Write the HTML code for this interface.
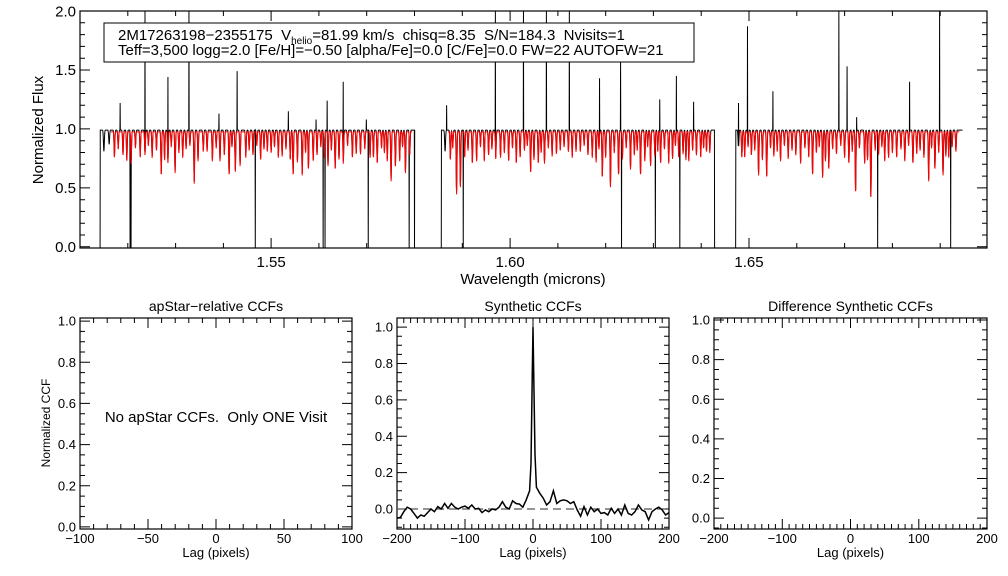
<!DOCTYPE html>
<html><head><meta charset="utf-8"><style>
html,body{margin:0;padding:0;background:#fff;}
svg{display:block;font-family:"Liberation Sans",sans-serif;}
</style></head><body>
<svg id="fig" width="1008" height="576" viewBox="0 0 1008 576" xmlns="http://www.w3.org/2000/svg"></svg>
<script>
// ---- Spectrum data (wavelength in microns) ----
const chipRanges = [[1.5142,1.5801],[1.5856,1.6428],[1.6472,1.6947]];
const modelRanges = [[1.5165,1.5795],[1.5870,1.6420],[1.6480,1.6940]];
const strongLineWl = [1.5190,1.5207,1.5226,1.5251,1.5270,1.5284,1.5299,1.5339,1.5358,1.5377,1.5393,1.5412,1.5425,1.5435,1.5462,1.5492,1.5515,1.5540,1.5546,1.5565,1.5578,1.5588,1.5619,1.5634,1.5651,1.5670,1.5687,1.5707,1.5722,1.5743,1.5751,1.5760,1.5781,
1.5888,1.5896,1.5921,1.5946,1.5980,1.5997,1.6013,1.6043,1.6059,1.6072,1.6097,1.6122,1.6147,1.6172,1.6193,1.6210,1.6227,1.6252,1.6273,1.6294,1.6315,1.6332,1.6353,1.6374,1.6399,1.6411,
1.6491,1.6520,1.6537,1.6566,1.6608,1.6633,1.6654,1.6667,1.6709,1.6723,1.6742,1.6755,1.6784,1.6809,1.6843,1.6876,1.6889,1.6906,1.6918];
const strongLineMin = [0.77,0.70,0.75,0.75,0.60,0.70,0.62,0.53,0.80,0.72,0.72,0.60,0.63,0.68,0.77,0.80,0.75,0.73,0.60,0.60,0.65,0.72,0.68,0.65,0.70,0.75,0.78,0.75,0.70,0.72,0.55,0.67,0.62,
0.44,0.50,0.70,0.72,0.75,0.72,0.70,0.62,0.70,0.70,0.78,0.80,0.80,0.75,0.58,0.50,0.60,0.65,0.60,0.68,0.70,0.70,0.75,0.72,0.75,0.80,
0.75,0.60,0.58,0.72,0.70,0.60,0.58,0.65,0.70,0.45,0.70,0.40,0.72,0.75,0.70,0.55,0.65,0.60,0.75];
const weakLineWl = [1.5150,1.5161,1.5172,1.5180,1.5198,1.5216,1.5236,1.5243,1.5260,1.5277,1.5291,1.5307,1.5315,1.5322,1.5330,1.5347,1.5366,1.5385,1.5402,1.5418,1.5447,1.5454,1.5470,1.5478,1.5485,1.5500,1.5507,1.5523,1.5531,1.5555,1.5572,1.5596,1.5604,1.5611,1.5626,1.5642,1.5660,1.5678,1.5696,1.5714,1.5731,1.5737,1.5769,1.5775,1.5790,
1.5864,1.5875,1.5880,1.5905,1.5912,1.5930,1.5938,1.5955,1.5962,1.5970,1.5988,1.6005,1.6021,1.6030,1.6036,1.6050,1.6065,1.6080,1.6088,1.6105,1.6113,1.6130,1.6138,1.6155,1.6163,1.6180,1.6186,1.6200,1.6218,1.6235,1.6243,1.6260,1.6266,1.6282,1.6288,1.6303,1.6309,1.6323,1.6340,1.6346,1.6362,1.6368,1.6382,1.6390,1.6405,1.6418,
1.6478,1.6485,1.6498,1.6505,1.6512,1.6528,1.6545,1.6552,1.6559,1.6574,1.6582,1.6590,1.6598,1.6617,1.6625,1.6641,1.6647,1.6660,1.6675,1.6683,1.6692,1.6700,1.6716,1.6731,1.6748,1.6764,1.6771,1.6778,1.6792,1.6800,1.6818,1.6826,1.6834,1.6851,1.6858,1.6866,1.6882,1.6897,1.6912,1.6925,1.6933];
const weakLineDepth = [0.18,0.12,0.22,0.15,0.25,0.14,0.20,0.12,0.16,0.24,0.13,0.18,0.22,0.15,0.12,0.25,0.17,0.14,0.20,0.13,0.22,0.16,0.12,0.24,0.15,0.18,0.13,0.21,0.15,0.26,0.18,0.20,0.13,0.22,0.16,0.24,0.12,0.19,0.15,0.22,0.14,0.18,0.25,0.13,0.20,
0.18,0.24,0.14,0.22,0.16,0.25,0.13,0.20,0.15,0.23,0.18,0.14,0.22,0.16,0.12,0.24,0.18,0.14,0.21,0.16,0.13,0.22,0.17,0.12,0.20,0.26,0.15,0.22,0.18,0.24,0.14,0.20,0.16,0.25,0.13,0.21,0.17,0.15,0.23,0.12,0.19,0.24,0.16,0.20,0.14,0.18,
0.15,0.22,0.13,0.20,0.16,0.24,0.14,0.21,0.17,0.12,0.23,0.16,0.20,0.14,0.22,0.18,0.13,0.25,0.15,0.19,0.12,0.22,0.17,0.14,0.24,0.16,0.20,0.13,0.22,0.18,0.15,0.25,0.12,0.19,0.16,0.22,0.14,0.18,0.21,0.13,0.17];
const badPixelWl = [1.5142,1.5205,1.5207,1.5467,1.5609,1.5613,1.5703,1.5789,1.5800,1.5856,1.5902,1.6233,1.6304,1.6355,1.6428,1.6472,1.6769,1.6922,1.6947];
const emissionWl = [1.5184,1.5236,1.5284,1.5328,1.5391,1.5429,1.5536,1.5594,1.5617,1.5651,1.5699,1.5867,1.5969,1.6028,1.6076,1.6124,1.6187,1.6231,1.6313,1.6348,1.6384,1.6478,1.6497,1.6550,1.6688,1.6705,1.6725,1.6836,1.6899];
const emissionPeak = [1.22,2.00,1.44,2.00,1.13,1.49,1.15,1.08,1.24,1.40,1.08,1.20,2.00,2.00,2.00,2.00,1.43,1.60,1.25,1.45,1.23,1.22,1.87,1.32,2.00,1.53,1.10,1.40,2.00];

// ---- CCF data ----
const ccfLag = [-200,-195,-190,-185,-180,-175,-170,-165,-160,-155,-150,-145,-140,-135,-130,-125,-120,-115,-110,-105,-100,-95,-90,-85,-80,-75,-70,-65,-60,-55,-50,-45,-40,-35,-30,-25,-20,-15,-10,-5,-3,-1,0,1,3,5,10,15,20,25,30,35,40,45,50,55,60,65,70,75,80,85,90,95,100,105,110,115,120,125,130,135,140,145,150,155,160,165,170,175,180,185,190,195,200];
const ccfValue = [-0.05,-0.046,-0.015,0.01,0,-0.024,-0.05,-0.033,-0.04,-0.02,0,-0.015,0.013,0,0.03,0.004,0.03,0.01,0,0.01,0.016,0.004,0.022,0,0.004,-0.02,-0.005,-0.015,0,-0.005,0.01,0.04,0.01,0,0.045,0.03,0.027,0.01,0.05,0.1,0.25,0.75,1.0,0.75,0.3,0.12,0.086,0.06,0.022,0.04,0.1,0.03,0.045,0.05,0.045,0.03,0.04,-0.005,-0.04,0.013,-0.033,0.01,-0.015,0,-0.024,-0.02,-0.033,0.004,-0.024,0,-0.033,0.022,-0.024,-0.033,-0.015,0.022,-0.005,-0.015,-0.06,-0.015,0,0.01,-0.005,-0.033,-0.02];

// ---- helpers ----
const NS="http://www.w3.org/2000/svg";
const svgRoot=document.getElementById('fig');
function mk(tag,attrs,parent){const e=document.createElementNS(NS,tag);for(const k in attrs)e.setAttribute(k,attrs[k]);(parent||svgRoot).appendChild(e);return e;}
function txt(s,x,y,size,anchor,parent){const t=mk('text',{x:x,y:y,'font-size':size,'text-anchor':anchor||'middle',fill:'#000'},parent);t.textContent=s;return t;}
function scale(d0,d1,r0,r1){return v=>r0+(v-d0)/(d1-d0)*(r1-r0);}

function axes(g,box,xd,yd,xMajor,xMinor,yMajor,yMinor,xFmt,yFmt,fs,xlabY){
  const X=scale(xd[0],xd[1],box.l,box.r),Y=scale(yd[0],yd[1],box.b,box.t);
  const fr=mk('rect',{x:box.l,y:box.t,width:box.r-box.l,height:box.b-box.t,fill:'none',stroke:'#000','stroke-width':1.2},g);
  
  
  let p='';
  const nx0=Math.ceil(xd[0]/xMinor-1e-6), nx1=Math.floor(xd[1]/xMinor+1e-6);
  for(let n=nx0;n<=nx1;n++){
    const v=n*xMinor;
    const maj=Math.abs(v/xMajor-Math.round(v/xMajor))<1e-6; const L=maj?10:5; const x=X(v).toFixed(1);
    p+=`M${x} ${box.b}v${-L}M${x} ${box.t}v${L}`;
  }
  const ny0=Math.ceil(yd[0]/yMinor-1e-6), ny1=Math.floor(yd[1]/yMinor+1e-6);
  for(let n=ny0;n<=ny1;n++){
    const v=n*yMinor;
    const maj=Math.abs(v/yMajor-Math.round(v/yMajor))<1e-6; const L=maj?10:5; const y=Y(v).toFixed(1);
    p+=`M${box.l} ${y}h${L}M${box.r} ${y}h${-L}`;
  }
  mk('path',{d:p,stroke:'#000','stroke-width':1,fill:'none'},g);
  const xt=mk('g',{},g);
  const mx0=Math.ceil(xd[0]/xMajor-1e-6), mx1=Math.floor(xd[1]/xMajor+1e-6);
  for(let n=mx0;n<=mx1;n++){const v=n*xMajor;txt(xFmt(v),X(v),xlabY,fs,'middle',xt);}
  const yt=mk('g',{},g);
  const my0=Math.ceil(yd[0]/yMajor-1e-6), my1=Math.floor(yd[1]/yMajor+1e-6);
  for(let n=my0;n<=my1;n++){const v=n*yMajor;txt(yFmt(v),box.l-4,Y(v)+fs*0.35,fs,'end',yt);}
  return {X,Y};
}

// ---- Top spectrum panel ----
const topG=mk('g',{});
const tb={l:80,r:987,t:11,b:248};
const TA=axes(topG,tb,[1.51,1.6998],[-0.01,2.0],0.05,0.01,0.5,0.1,v=>v.toFixed(2),v=>v.toFixed(1),15,267);
function fluxAt(w,scaleDepth,cont,sig){
  let f=cont;
  const s2=2*sig*sig;
  for(let i=0;i<strongLineWl.length;i++){const d=w-strongLineWl[i];if(Math.abs(d)<0.0005)f-=(0.97-strongLineMin[i])*scaleDepth*Math.exp(-d*d/s2);}
  for(let i=0;i<weakLineWl.length;i++){const d=w-weakLineWl[i];if(Math.abs(d)<0.0005)f-=weakLineDepth[i]*scaleDepth*Math.exp(-d*d/s2);}
  return f;
}
const STEP=0.00004;
function spectrumPath(ranges,scaleDepth,cont,sig,withArtifacts){
  let d='';
  for(const r of ranges){
    const a=r[0],b=r[1];
    const n=Math.floor((b-a)/STEP);
    for(let k=0;k<=n;k++){
      const w=a+k*STEP;
      let f=fluxAt(w,scaleDepth,cont,sig);
      if(withArtifacts){
        for(let i=0;i<badPixelWl.length;i++) if(Math.abs(w-badPixelWl[i])<STEP/2) f=-0.05;
        for(let i=0;i<emissionWl.length;i++) if(Math.abs(w-emissionWl[i])<STEP/2) f=emissionPeak[i];
      }
      f=Math.max(-0.05,Math.min(2.05,f));
      d+=(k===0?'M':'L')+TA.X(w).toFixed(2)+' '+TA.Y(f).toFixed(1);
    }
  }
  return d;
}
const defs=mk('defs',{});
const clip=mk('clipPath',{id:'topclip'},defs);mk('rect',{x:tb.l,y:tb.t,width:tb.r-tb.l,height:tb.b-tb.t},clip);
const obs=mk('path',{d:spectrumPath(chipRanges,1.0,0.99,0.00009,true),stroke:'#000','stroke-width':1,fill:'none','clip-path':'url(#topclip)'},topG);


const mod=mk('path',{d:spectrumPath(modelRanges,1.0,0.975,0.00007,false),stroke:'#f00','stroke-width':1,fill:'none','clip-path':'url(#topclip)'},topG);


const xt1=txt('Wavelength (microns)',533,284,15,'middle',topG);


const yt1=txt('Normalized Flux',0,0,15,'middle',topG);yt1.setAttribute('transform','translate(43,130) rotate(-90)');


// legend box
const lg=mk('g',{},topG);


mk('rect',{x:104,y:23,width:590,height:39,fill:'#fff',stroke:'#000','stroke-width':1},lg);
const l1=mk('text',{x:118,y:40,'font-size':15,fill:'#000'},lg);
l1.style.whiteSpace='pre';
const s1=mk('tspan',{},l1);s1.textContent='2M17263198−2355175  V';
const s2=mk('tspan',{'font-size':10,dy:4},l1);s2.textContent='helio';
const s3=mk('tspan',{dy:-4},l1);s3.textContent='=81.99 km/s  chisq=8.35  S/N=184.3  Nvisits=1';
txt('Teff=3,500 logg=2.0 [Fe/H]=−0.50 [alpha/Fe]=0.0 [C/Fe]=0.0 FW=22 AUTOFW=21',118,55,15,'start',lg);

// ---- Bottom panels ----
const fs2=13;
function lagFmt(v){const r=Math.round(v);return r===0?'0':String(r).replace('-','−');}
function panel(name,title,box,xd,yd,xMajor,xMinor){
  const g=mk('g',{});
  
  
  const A=axes(g,box,xd,yd,xMajor,xMinor,0.2,0.05,lagFmt,v=>v.toFixed(1),fs2,543);
  const t=txt(title,(box.l+box.r)/2,311,fs2+1,'middle',g);
  
  
  const xl=txt('Lag (pixels)',(box.l+box.r)/2,557,fs2,'middle',g);
  
  
  return {g,A};
}
const p1=panel('apstar-ccf-panel','apStar−relative CCFs',{l:80,r:352,t:318,b:529},[-100,100],[-0.01,1.015],50,10);
const yl=txt('Normalized CCF',0,0,12,'middle',p1.g);yl.setAttribute('transform','translate(50,423) rotate(-90)');


const nm=txt('No apStar CCFs.  Only ONE Visit',216,422,15,'middle',p1.g);
nm.style.whiteSpace='pre';



const p2=panel('synthetic-ccf-panel','Synthetic CCFs',{l:397,r:669,t:318,b:529},[-200,200],[-0.11,1.05],100,10);
const zl=mk('line',{x1:397,x2:669,y1:p2.A.Y(0),y2:p2.A.Y(0),stroke:'#555','stroke-width':1.2,'stroke-dasharray':'8,5'},p2.g);


let cd='';ccfLag.forEach((l,i)=>{cd+=(i?'L':'M')+p2.A.X(l).toFixed(1)+' '+p2.A.Y(ccfValue[i]).toFixed(1);});
const cc=mk('path',{d:cd,stroke:'#000','stroke-width':1.5,fill:'none'},p2.g);



const p3=panel('difference-ccf-panel','Difference Synthetic CCFs',{l:714,r:987,t:318,b:529},[-200,200],[-0.055,1.01],100,10);
</script>
</body></html>
